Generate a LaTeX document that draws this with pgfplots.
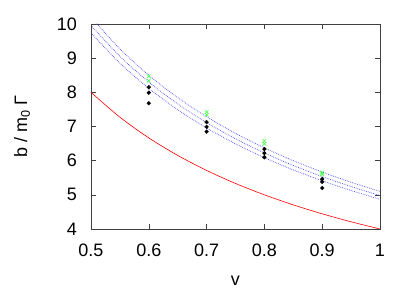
\documentclass[border=0pt]{standalone}
\usepackage{pgfplots}
\pgfplotsset{compat=1.18}
\usepackage{fontspec}
\setmainfont{Liberation Sans}
\begin{document}
\begin{tikzpicture}
\path[use as bounding box] (-91pt,-62pt) rectangle (324pt,229pt);
\begin{axis}[
  at={(0,0)}, anchor=south west,
  scale only axis, width=289pt, height=205pt,
  xmin=0.5, xmax=1, ymin=4, ymax=10,
  xtick={0.5,0.6,...,1.0}, ytick={4,5,...,10},
  xticklabels={0.5,0.6,0.7,0.8,0.9,1},
  tick align=inside, major tick length=5pt,
  axis line style={black!75, line width=0.6pt},
  tick style={black!75, line width=0.5pt},
  /pgf/number format/assume math mode=true,
  tick label style={font=\fontsize{18}{18}\selectfont, inner sep=2pt},
  label style={font=\fontsize{18}{18}\selectfont},
  xlabel={v}, ylabel={b / m\textsubscript{0} Γ},
  xlabel style={at={(axis description cs:0.5,0)}, anchor=center, yshift=-52pt},
  ylabel style={at={(axis description cs:0,0.5)}, anchor=center, rotate=0, xshift=0pt, yshift=69pt},
  yticklabel style={xshift=-12pt},
  xticklabel style={yshift=-13pt},
  clip=true,
]
\addplot[red, line width=0.6pt, smooth] coordinates {
(0.5,8) (0.55,7.2727) (0.6,6.6667) (0.65,6.1538) (0.7,5.7143) (0.75,5.3333) (0.8,5) (0.85,4.7059) (0.9,4.4444) (0.95,4.2105) (1,4)};
\addplot[blue!75, line width=0.7pt, dash pattern=on 0.7pt off 1.1pt, smooth] coordinates {
(0.5,10.2) (0.55,9.2727) (0.6,8.5) (0.65,7.8462) (0.7,7.2857) (0.75,6.8) (0.8,6.375) (0.85,6.0) (0.9,5.6667) (0.95,5.3684) (1,5.1)};
\addplot[blue!75, line width=0.7pt, dash pattern=on 0.7pt off 1.1pt, smooth] coordinates {
(0.5,9.96) (0.55,9.0545) (0.6,8.3) (0.65,7.6615) (0.7,7.1143) (0.75,6.64) (0.8,6.225) (0.85,5.8588) (0.9,5.5333) (0.95,5.2421) (1,4.98)};
\addplot[blue!75, line width=0.7pt, dash pattern=on 0.7pt off 1.1pt, smooth] coordinates {
(0.5,9.74) (0.55,8.8545) (0.6,8.1167) (0.65,7.4923) (0.7,6.9571) (0.75,6.4933) (0.8,6.0875) (0.85,5.7294) (0.9,5.4111) (0.95,5.1263) (1,4.87)};
\addplot[only marks, mark=x, mark size=2.6pt, green!80!white, mark options={line width=0.55pt}] coordinates {
(0.6,8.47) (0.6,8.34) (0.7,7.43) (0.7,7.34) (0.8,6.58) (0.8,6.49) (0.9,5.65) (0.9,5.60)};
\addplot[only marks, mark=*, mark size=1.9pt, black] coordinates {
(0.6,8.15) (0.6,7.99) (0.6,7.68) (0.7,7.13) (0.7,6.99) (0.7,6.85) (0.8,6.34) (0.8,6.22) (0.8,6.10) (0.9,5.46) (0.9,5.38) (0.9,5.20)};
\end{axis}
\end{tikzpicture}
\end{document}
